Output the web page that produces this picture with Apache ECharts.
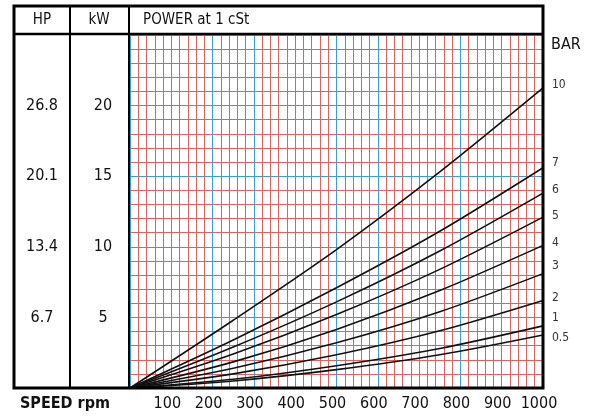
<!DOCTYPE html>
<html>
<head>
<meta charset="utf-8">
<script src="https://cdn.jsdelivr.net/npm/echarts@6/dist/echarts.min.js"></script>
<style>
html,body{margin:0;padding:0;background:#fff;}
#c{width:598px;height:418px;}
</style>
</head>
<body>
<div id="c"></div>
<script>
// ---- data ----
const rpm = [0, 250, 500, 750, 1000];
const barNames = ['10', '7', '6', '5', '4', '3', '2', '1', '0.5'];
const bar10 = [0, 4.8, 9.8, 15.3, 21.25];
const bar7  = [0, 3.4, 7.1, 11.1, 15.6];
const bar6  = [0, 2.9, 6.1, 9.7, 13.8];
const bar5  = [0, 2.4, 5.2, 8.4, 12.1];
const bar4  = [0, 1.85, 4.15, 6.9, 10.1];
const bar3  = [0, 1.4, 3.2, 5.4, 8.1];
const bar2  = [0, 1.0, 2.35, 4.05, 6.2];
const bar1  = [0, 0.62, 1.58, 2.8, 4.4];
const bar05 = [0, 0.5, 1.3, 2.35, 3.75];
const kwTicks = [5, 10, 15, 20];
const hpLabels = ['6.7', '13.4', '20.1', '26.8'];

const allBars = [bar10, bar7, bar6, bar5, bar4, bar3, bar2, bar1, bar05];
// label vertical nudges (style only)
const labelNudge = [-3, -5, -3, -1, -3, -8, -3, -8, 3];

const FONT = "'Liberation Sans Narrow','DejaVu Sans Condensed','Roboto Condensed','Liberation Sans',sans-serif";
const RED = '#db645c';
const BLUE = '#3a9fd4';

const chart = echarts.init(document.getElementById('c'), null, {renderer: 'canvas'});

const series = allBars.map((vals, i) => ({
  name: barNames[i],
  type: 'line',
  data: rpm.map((r, j) => [r, vals[j]]),
  smooth: 0.3,
  symbol: 'none',
  lineStyle: {color: '#111', width: 1.6},
  endLabel: {
    show: true,
    formatter: '{a}',
    color: '#333',
    fontFamily: FONT,
    fontSize: 12,
    distance: 9,
    offset: [0, labelNudge[i]]
  },
  emphasis: {disabled: true},
  silent: true,
  animation: false
}));

chart.setOption({
  animation: false,
  backgroundColor: '#fff',
  grid: {left: 130, right: 55, top: 35, bottom: 30, containLabel: false},
  xAxis: {
    type: 'value', min: 0, max: 1000, interval: 100,
    axisLine: {show: false}, axisTick: {show: false},
    minorTick: {show: false, splitNumber: 5},
    splitLine: {show: true, lineStyle: {color: BLUE, width: 1}},
    minorSplitLine: {show: true, lineStyle: {color: RED, width: 1}},
    axisLabel: {
      color: '#111', fontFamily: FONT, fontSize: 16, margin: 8,
      padding: [0, 8, 0, 0],
      formatter: v => v === 0 ? '' : String(v)
    }
  },
  yAxis: [
    {
      type: 'value', min: 0, max: 25, interval: 5, position: 'left', offset: 0,
      axisLine: {show: false}, axisTick: {show: false},
      minorTick: {show: false, splitNumber: 5},
      splitLine: {show: true, lineStyle: {color: BLUE, width: 1}},
      minorSplitLine: {show: true, lineStyle: {color: RED, width: 1}},
      axisLabel: {
        color: '#111', fontFamily: FONT, fontSize: 16, margin: 27, align: 'center',
        formatter: v => kwTicks.indexOf(v) >= 0 ? String(v) : ''
      }
    },
    {
      type: 'value', min: 0, max: 25, interval: 5, position: 'left', offset: 0,
      axisLine: {show: false}, axisTick: {show: false},
      splitLine: {show: false},
      axisLabel: {
        color: '#111', fontFamily: FONT, fontSize: 16, margin: 88, align: 'center',
        formatter: v => { const k = kwTicks.indexOf(v); return k >= 0 ? hpLabels[k] : ''; }
      }
    }
  ],
  graphic: [
    {type: 'rect', shape: {x: 14, y: 6, width: 529, height: 382}, style: {fill: 'none', stroke: '#000', lineWidth: 3}, z: 100, silent: true},
    {type: 'line', shape: {x1: 14, y1: 34, x2: 543, y2: 34}, style: {stroke: '#000', lineWidth: 2.5}, z: 100, silent: true},
    {type: 'line', shape: {x1: 70, y1: 6, x2: 70, y2: 388}, style: {stroke: '#000', lineWidth: 2}, z: 100, silent: true},
    {type: 'line', shape: {x1: 129, y1: 6, x2: 129, y2: 388}, style: {stroke: '#000', lineWidth: 2}, z: 100, silent: true},
    {type: 'text', x: 42, y: 20, style: {text: 'HP', fontFamily: FONT, fontSize: 15, fill: '#111', align: 'center', verticalAlign: 'middle'}, z: 100},
    {type: 'text', x: 99, y: 20, style: {text: 'kW', fontFamily: FONT, fontSize: 15, fill: '#111', align: 'center', verticalAlign: 'middle'}, z: 100},
    {type: 'text', x: 143, y: 20, style: {text: 'POWER at 1 cSt', fontFamily: FONT, fontSize: 15, fill: '#111', align: 'left', verticalAlign: 'middle'}, z: 100},
    {type: 'text', x: 551, y: 45, style: {text: 'BAR', fontFamily: FONT, fontSize: 16, fill: '#111', align: 'left', verticalAlign: 'middle'}, z: 100},
    {type: 'text', x: 20, y: 404, style: {text: 'SPEED rpm', fontFamily: FONT, fontSize: 16, fontWeight: 'bold', fill: '#111', align: 'left', verticalAlign: 'middle'}, z: 100}
  ],
  series: series
});
</script>
</body>
</html>
